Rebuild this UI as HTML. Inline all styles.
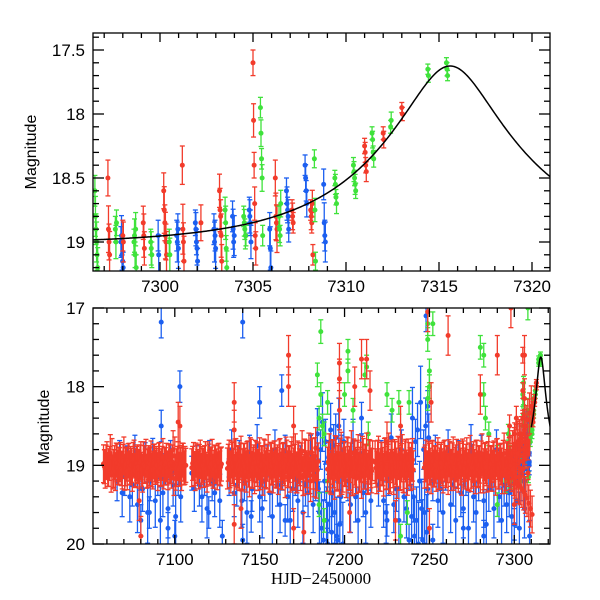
<!DOCTYPE html>
<html><head><meta charset="utf-8"><style>
html,body{margin:0;padding:0;background:#fff;}
svg{display:block;font-family:"Liberation Sans",sans-serif;}
</style></head><body>
<svg id="chart" width="600" height="600" viewBox="0 0 600 600" xmlns="http://www.w3.org/2000/svg">
<defs>
<clipPath id="clipTop"><rect x="93" y="33" width="457" height="238"/></clipPath>
<clipPath id="clipBot"><rect x="93" y="308" width="457" height="236"/></clipPath>
</defs>
<g id="top"></g>
<g id="bot"></g>
<text x="36" y="152" transform="rotate(-90 36 152)" text-anchor="middle" font-size="16">Magnitude</text>
<text x="49" y="427" transform="rotate(-90 49 427)" text-anchor="middle" font-size="16">Magnitude</text>
<text x="321" y="584" text-anchor="middle" font-size="17" font-family="Liberation Serif, serif">HJD−2450000</text>
</svg>
<script>
// ---------- data ----------
const topT = [7296.5,7297.2,7297.6,7297.9,7298.0,7298.6,7299.1,7299.5,7299.9,7300.2,7300.5,7300.9,7301.2,7301.9,7302.2,7302.9,7303.2,7303.5,7303.9,7304.5,7304.8,7305.0,7305.4,7305.9,7306.2,7306.4,7306.8,7307.1,7307.8,7308.1,7308.3,7308.8,7309.4,7310.4,7311.0,7311.4,7312.0,7312.4,7313.0,7314.4,7315.4];
const topColor = ['g','r','g','b','r','g','r','g','b','r','g','b','r','b','r','b','r','g','b','g','b','r','g','b','r','g','b','r','b','r','g','b','g','g','r','g','r','g','r','g','g'];
const topMags = [
 [18.6,18.8,18.9,19.0,19.1,19.2],[18.5,18.9,19.0,19.1],[18.9,19.0,18.85],[19.0,18.95,19.1,19.15,19.2],[18.95,19.0],
 [19.0,18.95,19.1,18.9,19.2],[18.85,18.95,19.05],[19.0,19.05,19.1],[18.95,19.1],[18.6,18.75,18.85,18.95,19.0,19.1],
 [19.0,19.1],[18.95,19.0,18.9,19.05],[18.4,18.9,19.0,19.15],[18.85,18.9,19.0,19.05,19.15],[18.85],
 [18.9,19.0,18.95,19.05],[18.6,18.75,18.8,18.95,19.15],[18.75,18.85,19.05,19.2],[18.8,18.9,19.0,18.95],[18.8,18.85,18.9,18.95,18.95],
 [18.75,18.8,18.85,19.0],[17.6,18.05,18.4,18.7,18.95,19.05],[17.95,18.15,18.35,18.5,18.95],[18.9,19.05,19.2],[18.5,18.8,18.85,18.9],
 [18.8,18.9,18.95,18.7],[18.6,18.7,18.75,18.8,18.9],[18.75,18.8,18.85],[18.4,18.5,18.6,18.7],[18.75,18.8,18.85,18.7,19.1],
 [18.35,18.75,19.15],[18.55,18.85,18.95,19.0],[18.5,18.55,18.65,18.7],[18.4,18.45,18.5,18.55,18.6],[18.25,18.3,18.4,18.45],
 [18.15,18.2,18.3,18.35],[18.15,18.2],[18.1,18.05],[17.95,18.0],[17.65,17.7],[17.6,17.65,17.7]];
const topErr = [0.12,0.14,0.1,0.12,0.12,0.1,0.13,0.1,0.12,0.14,0.1,0.12,0.15,0.1,0.14,0.12,0.13,0.1,0.12,0.08,0.1,0.1,0.08,0.13,0.14,0.08,0.1,0.08,0.08,0.08,0.07,0.12,0.06,0.06,0.06,0.05,0.05,0.05,0.04,0.04,0.04];

const redSegStart = [7058,7110,7131,7190,7218,7247];
const redSegOffsets = [
 "-2 5 -6 3 -15 -10 4 8 -3 1 -5 6 -12 2 7 -4 0 9 -8 3 -2 5 -6 10 -1 -9 4 2 -7 6 -3 0 8 -5 3 -10 1 -4 7 -2 5 -20 -12 3 -6 2 8 -4 0",
 "3 -5 8 -2 6 -8 0 4 -6 10 -3 2 -9 5 -1 7 -4 2",
 "4 -6 9 -3 12 -8 2 6 -11 5 -2 8 -5 14 -7 3 10 -4 6 -9 1 12 -6 4 -13 7 -2 9 -5 3 11 -8 5 -3 15 -6 2 8 -10 4 -14 9 -3 6 -18 12 -6 10 -15 20 -8 14 -22 6",
 "5 -12 9 -4 15 -9 3 11 -14 6 -2 13 -7 4 -16 10 -3 8 -11 5 14 -6 2 -13 9 -4 7",
 "-4 9 -10 6 -2 12 -8 3 -14 7 -5 10 -3 15 -9 4 -12 8 -6 11 -2 5 -7",
 "3 -6 8 -2 10 -5 1 7 -9 4 -3 9 -6 2 11 -4 6 -10 3 -7 8 -2 12 -5 4 -9 6 -12 3 -4 10 -6 1 9 -14 5 -3 8 -11 2 7 -5 12 -8 4 -2 10 -15 6 -4 -9 -12 -18 -22 -26 -30 -32 -36 -40 -45 -50 -58 -66 -75"];
const redSegErr = [0.24,0.24,0.26,0.28,0.27,0.26];

const blueSegStart = [7066,7110,7132,7184,7202,7220,7240,7252];
const blueSegStep = [1.5,1.5,1.5,0.6,1.5,1.5,0.6,1.5];
const blueSegOffsets = [
 "20 -10 35 15 -5 40 25 -15 50 10 30 -8 60 20 -12 45 15 70 35 5 55 -10 25 65 15 40",
 "10 30 -5 25 40 15 55 -10 20 35 5 45",
 "15 -20 35 25 -10 45 20 60 -15 30 10 -25 40 55 20 -5 35 65 -20 25 50 10 -15 40 70 30 15 45 -5 60 25 35 -15 50 20",
 "-40 30 60 -20 80 -55 95 20 -30 70 100 -10 50 -45 85 35 -25 60 -35 90 10 -50 75 40 -15 100 -30",
 "20 50 -30 40 70 -15 35 60 10 45",
 "25 -10 45 60 15 -35 50 30 70 -20 40 55 10 65",
 "-60 40 90 -30 70 -45 100 20 -80 55 95 -20 60 -50 85 30 -35",
 "20 -15 45 30 60 10 -20 50 25 70 -10 35 55 15 80 -25 40 60 20 -15 45 75 30 10 55 -20 40 70 25 50 35 65 -5 45 80 20 55 -10"];
const blueOutT = [7092,7140,7103,7092,7150,7163,7248,7249,7210,7304,7100,7096,7128,7140,7190,7196,7238,7252,7300,7309,7080,7085,7120,7145,7165,7225,7270,7282];
const blueOutM = [17.18,17.18,18.0,18.5,18.2,18.05,17.1,18.25,18.4,18.7,19.9,19.8,19.9,19.95,20.0,19.95,19.95,19.95,19.75,19.9,19.7,19.6,19.6,19.65,19.7,19.7,19.8,19.9];

const greenT = [7186,7184,7186,7185,7187,7188,7190,7200,7202,7202,7205,7212,7213,7214,7225,7228,7232,7238,7249,7249,7250,7250,7249,7252,7280,7282,7282,7283,7285,7290,7300,7305,7308,7308,7185,7188,7233,7237,7290,7295,7190];
const greenM = [17.3,17.85,18.1,18.4,18.5,18.6,18.2,18.1,17.55,17.8,18.3,17.85,17.75,18.6,18.1,18.3,18.2,18.2,17.4,17.2,17.8,18.0,18.15,17.2,17.5,17.6,18.1,18.4,18.6,18.9,18.9,18.1,17.0,18.3,19.5,19.7,19.9,19.6,19.5,19.2,19.2];

const redOutT = [7080,7079,7102,7103,7135,7135,7139,7135,7167,7167,7170,7197,7197,7197,7206,7210,7213,7215,7225,7233,7249,7261,7251,7280,7290,7298,7306,7306,7250,7170,7176,7203,7230,7300];
const redOutM = [19.9,19.45,18.45,18.5,18.2,18.55,19.55,19.75,17.6,18.0,18.5,17.7,18.3,17.9,18.0,17.65,17.65,18.05,18.7,18.5,17.05,17.35,18.2,18.1,17.6,17.0,17.6,18.15,19.8,19.8,19.85,19.6,19.7,19.5];

// model curve parameters (microlensing fit)
const modelT0 = 7315.6, modelTE = 8.0, modelU0 = 0.285, modelBase = 19.02;

// ---------- drawing ----------
const NS = "http://www.w3.org/2000/svg";
const COL = {r:'#f23b2b', g:'#3fe23b', b:'#1c5ff0'};
function lin(d0,d1,r0,r1){return v=>r0+(v-d0)*(r1-r0)/(d1-d0);}
const P = {
 top:{g:document.getElementById('top'), x:lin(7300,7320,160,532), y:lin(17.5,18,50,114), x0:93,x1:550,y0:33,y1:271, clip:'clipTop'},
 bot:{g:document.getElementById('bot'), x:lin(7100,7300,174.8,514.3), y:lin(17,20,308,544), x0:93,x1:550,y0:308,y1:544, clip:'clipBot'}
};
function el(tag, attrs, parent){const e=document.createElementNS(NS,tag);for(const k in attrs)e.setAttribute(k,attrs[k]);parent.appendChild(e);return e;}

function point(panel, layer, t, m, err, c){
 const x=panel.x(t), y=panel.y(m), y1=panel.y(m-err), y2=panel.y(m+err);
 const g=el('g',{stroke:COL[c],'stroke-width':1.3,fill:COL[c]},layer);
 
 
 el('line',{x1:x,y1:y1,x2:x,y2:y2},g);
 el('line',{x1:x-2.5,y1:y1,x2:x+2.5,y2:y1},g);
 el('line',{x1:x-2.5,y1:y2,x2:x+2.5,y2:y2},g);
 el('circle',{cx:x,cy:y,r:2.5,stroke:'none'},g);
}

function drawAxes(panel, xMaj, xMin, xr, yMaj, yMin, yr, yFmt){
 const g=panel.g;
 const ax=el('g',{stroke:'#000','stroke-width':1.3,fill:'none'},g);
 
 
 el('rect',{x:panel.x0,y:panel.y0,width:panel.x1-panel.x0,height:panel.y1-panel.y0},ax);
 for(let v=Math.ceil(xr[0]/xMin)*xMin; v<=xr[1]; v+=xMin){
  const x=panel.x(v); if(x<panel.x0||x>panel.x1)continue;
  const maj=Math.abs(v/xMaj-Math.round(v/xMaj))<1e-6; const L=maj?9:5;
  el('line',{x1:x,y1:panel.y1,x2:x,y2:panel.y1-L},ax);
  el('line',{x1:x,y1:panel.y0,x2:x,y2:panel.y0+L},ax);
  if(maj){const tx=el('text',{x:x,y:panel.y1+21,'text-anchor':'middle','font-size':17,fill:'#000',stroke:'none'},g);tx.textContent=String(Math.round(v));
   
   }
 }
 for(let i=0; ; i++){
  const v=yr[0]+i*yMin; if(v>yr[1]+1e-9)break;
  const y=panel.y(v); if(y<panel.y0-0.5||y>panel.y1+0.5)continue;
  const maj=Math.abs(v/yMaj-Math.round(v/yMaj))<1e-6; const L=maj?11:6;
  el('line',{x1:panel.x0,y1:y,x2:panel.x0+L,y2:y},ax);
  el('line',{x1:panel.x1,y1:y,x2:panel.x1-L,y2:y},ax);
  if(maj){const tx=el('text',{x:panel.x0-8,y:y+6,'text-anchor':'end','font-size':17,fill:'#000',stroke:'none'},g);tx.textContent=yFmt(v);
   
   }
 }
}

function modelMag(t){
 const tau=(t-modelT0)/modelTE, u=Math.sqrt(modelU0*modelU0+tau*tau);
 const A=(u*u+2)/(u*Math.sqrt(u*u+4));
 return modelBase-2.5*Math.log10(A);
}
function drawModel(panel, t0, t1){
 let d='';
 for(let i=0;i<=400;i++){const t=t0+(t1-t0)*i/400;d+=(i?'L':'M')+panel.x(t).toFixed(2)+','+panel.y(modelMag(t)).toFixed(2);}
 const layer=el('g',{'clip-path':'url(#'+panel.clip+')'},panel.g);
 const p=el('path',{d:d,stroke:'#000','stroke-width':1.5,fill:'none'},layer);
 
 
}

// top panel
(function(){
 const pn=P.top;
 const layer=el('g',{'clip-path':'url(#clipTop)'},pn.g);
 
 
 topT.forEach((t,i)=>topMags[i].forEach((m,j)=>point(pn,layer,t+j*0.03,m,topErr[i]*(1+0.3*(j%2)),topColor[i])));
 drawModel(pn,7296,7321.5);
 drawAxes(pn,5,1,[7296,7321],0.5,0.1,[17.4,19.3],v=>(Math.abs(v-Math.round(v))<1e-6?String(Math.round(v)):v.toFixed(1)));
})();

// bottom panel
(function(){
 const pn=P.bot;
 const layer=el('g',{'clip-path':'url(#clipBot)'},pn.g);
 
 
 blueSegStart.forEach((s,k)=>blueSegOffsets[k].split(' ').forEach((o,i)=>{const m=19+(+o)/100;point(pn,layer,s+i*blueSegStep[k],m,0.18+Math.abs(m-19)*0.35,'b');}));
 blueOutT.forEach((t,i)=>point(pn,layer,t,blueOutM[i],0.2,'b'));
 greenT.forEach((t,i)=>point(pn,layer,t,greenM[i],0.15,'g'));
 topT.forEach((t,i)=>topMags[i].forEach(m=>{if(topColor[i]!=='r')point(pn,layer,t,m,topErr[i],topColor[i]);}));
 redSegStart.forEach((s,k)=>redSegOffsets[k].split(' ').forEach((o,i)=>{point(pn,layer,s+i,19+(+o)/100,redSegErr[k],'r');point(pn,layer,s+i+0.5,19-(+o)/120,redSegErr[k]*0.9,'r');}));
 redOutT.forEach((t,i)=>point(pn,layer,t,redOutM[i],0.25,'r'));
 topT.forEach((t,i)=>topMags[i].forEach(m=>{if(topColor[i]==='r')point(pn,layer,t,m,topErr[i],'r');}));
 drawModel(pn,7310,7325);
 drawAxes(pn,50,10,[7050,7325],1,0.2,[17,20],v=>String(Math.round(v)));
})();
</script>
</body></html>
